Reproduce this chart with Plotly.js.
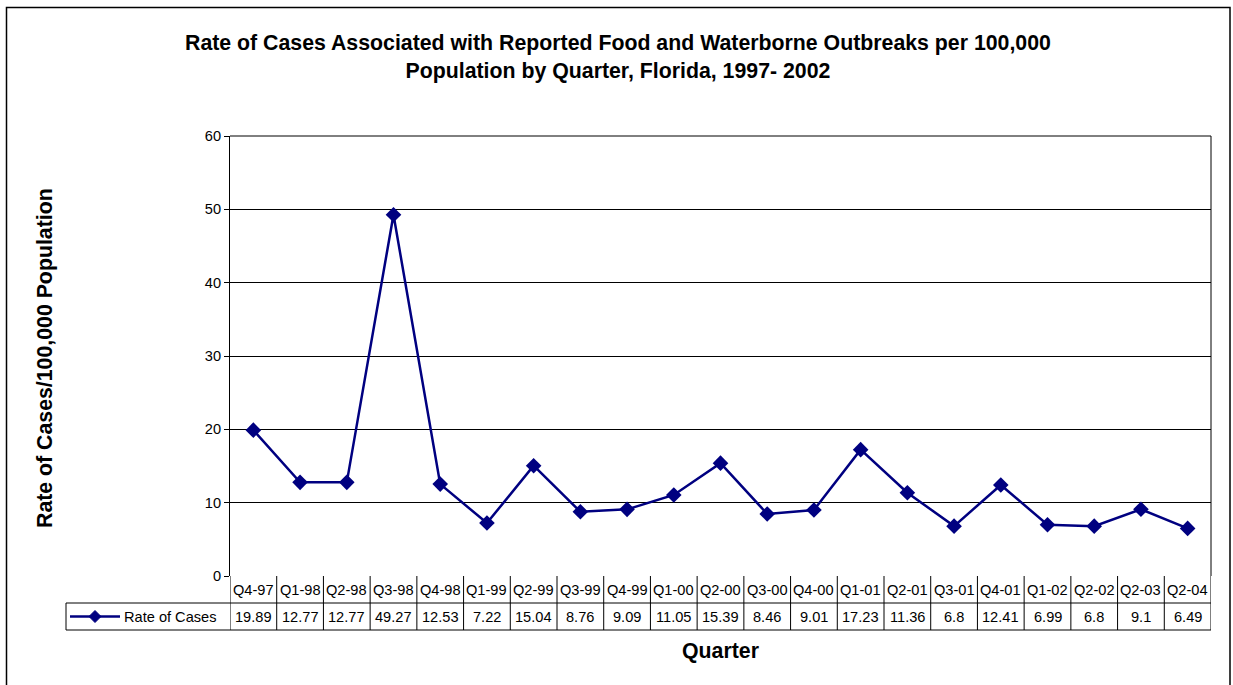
<!DOCTYPE html>
<html><head><meta charset="utf-8">
<script src="https://cdn.plot.ly/plotly-3.0.1.min.js"></script>
<style>html,body{margin:0;padding:0;background:#fff;}#chart{width:1233px;height:685px;}</style>
</head><body><div id="chart"></div>
<script>
const quarters = ["Q4-97","Q1-98","Q2-98","Q3-98","Q4-98","Q1-99","Q2-99","Q3-99","Q4-99","Q1-00","Q2-00","Q3-00","Q4-00","Q1-01","Q2-01","Q3-01","Q4-01","Q1-02","Q2-02","Q2-03","Q2-04"];
const rates = [19.89,12.77,12.77,49.27,12.53,7.22,15.04,8.76,9.09,11.05,15.39,8.46,9.01,17.23,11.36,6.8,12.41,6.99,6.8,9.1,6.49];
const seriesName = "Rate of Cases";

const W = 1233, H = 685;
const mL = 230, mR = 22, mT = 136, mB = 109;
const pw = W - mL - mR, ph = H - mT - mB;
const py = p => (H - mB - p) / ph;      // pixel y -> paper y
const px = p => (p - mL) / pw;          // pixel x -> paper x
const navy = "#000080";
const font = "Liberation Sans, Arial, sans-serif";
const smallSize = 14.6, bigSize = 21.3;

const shapes = [];
const annotations = [];
const n = quarters.length;
const row1Top = py(576), row1Bot = py(603), row2Bot = py(630);
for (let i = 0; i <= n; i++) {
  shapes.push({type:"line", xref:"x", yref:"paper", x0:i-0.5, x1:i-0.5, y0:row1Top, y1:row2Bot, line:{color:"#000", width:1}});
}
shapes.push({type:"line", xref:"paper", yref:"paper", x0:0, x1:1, y0:row1Bot, y1:row1Bot, line:{color:"#000", width:1}});
shapes.push({type:"line", xref:"paper", yref:"paper", x0:px(66), x1:1, y0:row2Bot, y1:row2Bot, line:{color:"#000", width:1}});
shapes.push({type:"line", xref:"paper", yref:"paper", x0:px(66), x1:0, y0:row1Bot, y1:row1Bot, line:{color:"#000", width:1}});
shapes.push({type:"line", xref:"paper", yref:"paper", x0:px(66), x1:px(66), y0:row1Bot, y1:row2Bot, line:{color:"#000", width:1}});
const keyY = (row1Bot + row2Bot) / 2;
shapes.push({type:"line", xref:"paper", yref:"paper", x0:px(70), x1:px(120), y0:keyY, y1:keyY, line:{color:navy, width:2.5}});
shapes.push({type:"path", xref:"paper", yref:"paper", xsizemode:"pixel", ysizemode:"pixel", xanchor:px(95), yanchor:keyY,
  path:"M0,6 L6,0 L0,-6 L-6,0 Z", fillcolor:navy, line:{color:navy, width:1}});
shapes.push({type:"rect", xref:"paper", yref:"paper", x0:px(6.5), x1:px(1230), y0:py(7.5), y1:py(700), line:{color:"#000", width:1.5}});
shapes.push({type:"line", xref:"paper", yref:"paper", x0:1, x1:1, y0:0, y1:1, line:{color:"#000", width:1}});
shapes.push({type:"line", xref:"paper", yref:"paper", x0:0, x1:1, y0:1, y1:1, line:{color:"#000", width:1}});

for (let i = 0; i < n; i++) {
  annotations.push({xref:"x", yref:"paper", x:i, y:(row1Top+row1Bot)/2, text:quarters[i], showarrow:false, font:{family:font, size:smallSize, color:"#000"}, xanchor:"center", yanchor:"middle"});
  annotations.push({xref:"x", yref:"paper", x:i, y:keyY, text:String(rates[i]), showarrow:false, font:{family:font, size:smallSize, color:"#000"}, xanchor:"center", yanchor:"middle"});
}
annotations.push({xref:"paper", yref:"paper", x:px(122), y:keyY, text:seriesName, showarrow:false, font:{family:font, size:smallSize, color:"#000"}, xanchor:"left", yanchor:"middle"});
annotations.push({xref:"paper", yref:"paper", x:px(720), y:py(651), text:"<b>Quarter</b>", showarrow:false, font:{family:font, size:bigSize, color:"#000"}, xanchor:"center", yanchor:"middle"});
annotations.push({xref:"paper", yref:"paper", x:px(45), y:py(358), text:"<b>Rate of Cases/100,000 Population</b>", textangle:-90, showarrow:false, font:{family:font, size:bigSize, color:"#000"}, xanchor:"center", yanchor:"middle"});
annotations.push({xref:"paper", yref:"paper", x:px(618), y:py(57), text:"<b>Rate of Cases Associated with Reported Food and Waterborne Outbreaks per 100,000<br>Population by Quarter, Florida, 1997- 2002</b>", showarrow:false, font:{family:font, size:bigSize, color:"#000"}, xanchor:"center", yanchor:"middle", align:"center"});

const traces = [
  {x: quarters.map((_, i) => i), y: rates, type:"scatter", mode:"lines+markers", name:seriesName,
   line:{color:navy, width:2.5}, marker:{symbol:"diamond", size:12, color:navy}, cliponaxis:false}
];

const layout = {
  width: W, height: H,
  margin:{l:mL, r:mR, t:mT, b:mB, pad:0},
  paper_bgcolor:"#fff", plot_bgcolor:"#fff",
  showlegend:false,
  font:{family:font, color:"#000"},
  xaxis:{range:[-0.5, n-0.5], showticklabels:false, showgrid:false, zeroline:false, showline:false, ticks:"", fixedrange:true},
  yaxis:{range:[0,60], dtick:10, tickmode:"linear", showgrid:true, gridcolor:"#000", gridwidth:1, zeroline:false,
         showline:true, linecolor:"#000", linewidth:1, ticks:"outside", ticklen:5, tickcolor:"#000",
         tickfont:{family:font, size:smallSize, color:"#000"}},
  shapes: shapes,
  annotations: annotations
};
Plotly.newPlot("chart", traces, layout, {staticPlot:true});
</script>
</body></html>
